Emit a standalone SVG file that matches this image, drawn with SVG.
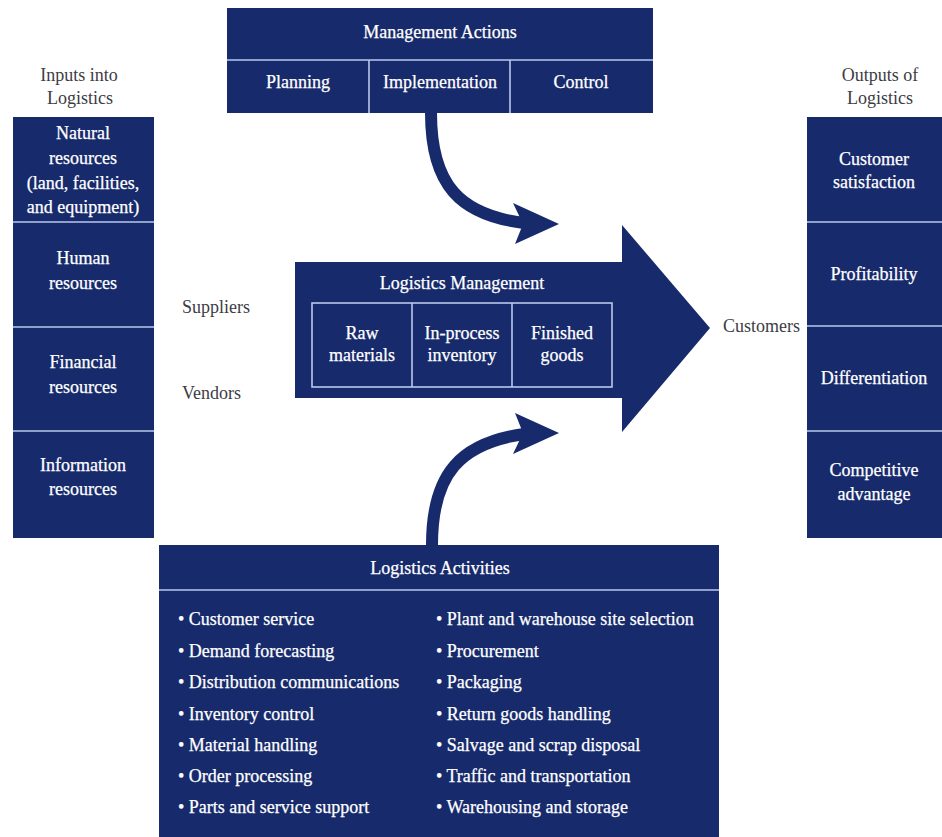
<svg xmlns="http://www.w3.org/2000/svg" width="942" height="837" viewBox="0 0 942 837">
  <style>
    .box { fill: #172a6c; }
    .rule { stroke: #b9c8ec; stroke-width: 1.6; fill: none; }
    .t { font-family: "Liberation Serif", "Times New Roman", serif; font-size: 18px; fill: #ffffff; text-anchor: middle; stroke: #ffffff; stroke-width: 0.25; }
    .tl { font-family: "Liberation Serif", "Times New Roman", serif; font-size: 18px; fill: #ffffff; stroke: #ffffff; stroke-width: 0.25; }
    .o { font-family: "Liberation Serif", "Times New Roman", serif; font-size: 18px; fill: #3c3c44; }
    .oc { text-anchor: middle; }
    .conn { fill: none; stroke: #172a6c; stroke-width: 12; }
    .head { fill: #172a6c; }
  </style>

  <rect width="942" height="837" fill="#ffffff"/>

  <!-- Management actions -->
  <g id="management-actions">
    <rect class="box" x="227" y="8" width="426" height="105"/>
    <line class="rule" x1="227" y1="60" x2="653" y2="60"/>
    <line class="rule" x1="369" y1="60" x2="369" y2="113"/>
    <line class="rule" x1="510" y1="60" x2="510" y2="113"/>
    <text class="t" x="440" y="38">Management Actions</text>
    <text class="t" x="298" y="88">Planning</text>
    <text class="t" x="440" y="88">Implementation</text>
    <text class="t" x="581" y="88">Control</text>
  </g>

  <!-- Inputs column -->
  <g id="inputs">
    <text class="o oc" x="79" y="81">Inputs into</text>
    <text class="o oc" x="80" y="104">Logistics</text>
    <rect class="box" x="13" y="117" width="141" height="421"/>
    <line class="rule" x1="13" y1="222" x2="154" y2="222"/>
    <line class="rule" x1="13" y1="327" x2="154" y2="327"/>
    <line class="rule" x1="13" y1="431" x2="154" y2="431"/>
    <text class="t" x="83" y="139">Natural</text>
    <text class="t" x="83" y="164">resources</text>
    <text class="t" x="83" y="189">(land, facilities,</text>
    <text class="t" x="83" y="213">and equipment)</text>
    <text class="t" x="83" y="264">Human</text>
    <text class="t" x="83" y="289">resources</text>
    <text class="t" x="83" y="368">Financial</text>
    <text class="t" x="83" y="393">resources</text>
    <text class="t" x="83" y="471">Information</text>
    <text class="t" x="83" y="495">resources</text>
  </g>

  <!-- Outputs column -->
  <g id="outputs">
    <text class="o oc" x="880" y="81">Outputs of</text>
    <text class="o oc" x="880" y="104">Logistics</text>
    <rect class="box" x="807" y="117" width="135" height="421"/>
    <line class="rule" x1="807" y1="222" x2="942" y2="222"/>
    <line class="rule" x1="807" y1="326" x2="942" y2="326"/>
    <line class="rule" x1="807" y1="431" x2="942" y2="431"/>
    <text class="t" x="874" y="165">Customer</text>
    <text class="t" x="874" y="188">satisfaction</text>
    <text class="t" x="874" y="280">Profitability</text>
    <text class="t" x="874" y="384">Differentiation</text>
    <text class="t" x="874" y="476">Competitive</text>
    <text class="t" x="874" y="500">advantage</text>
  </g>

  <!-- Side labels -->
  <g id="suppliers"><text class="o" x="182" y="313">Suppliers</text></g>
  <g id="vendors"><text class="o" x="182" y="399">Vendors</text></g>
  <g id="customers"><text class="o" x="723" y="332">Customers</text></g>

  <!-- Logistics management (block arrow) -->
  <g id="logistics-management">
    <polygon class="box" points="295,262 622,262 622,225 710,328 622,432 622,398 295,398"/>
    <rect class="rule" x="312" y="303" width="300" height="84"/>
    <line class="rule" x1="412" y1="303" x2="412" y2="387"/>
    <line class="rule" x1="512" y1="303" x2="512" y2="387"/>
    <text class="t" x="462" y="289">Logistics Management</text>
    <text class="t" x="362" y="339">Raw</text>
    <text class="t" x="362" y="361">materials</text>
    <text class="t" x="462" y="339">In-process</text>
    <text class="t" x="462" y="361">inventory</text>
    <text class="t" x="562" y="339">Finished</text>
    <text class="t" x="562" y="361">goods</text>
  </g>

  <!-- Logistics activities -->
  <g id="logistics-activities">
    <rect class="box" x="159" y="545" width="560" height="292"/>
    <line class="rule" x1="159" y1="590" x2="719" y2="590"/>
    <text class="t" x="440" y="574">Logistics Activities</text>
    <text class="tl" x="178" y="625">• Customer service</text>
    <text class="tl" x="178" y="657">• Demand forecasting</text>
    <text class="tl" x="178" y="688">• Distribution communications</text>
    <text class="tl" x="178" y="720">• Inventory control</text>
    <text class="tl" x="178" y="751">• Material handling</text>
    <text class="tl" x="178" y="782">• Order processing</text>
    <text class="tl" x="178" y="813">• Parts and service support</text>
    <text class="tl" x="436" y="625">• Plant and warehouse site selection</text>
    <text class="tl" x="436" y="657">• Procurement</text>
    <text class="tl" x="436" y="688">• Packaging</text>
    <text class="tl" x="436" y="720">• Return goods handling</text>
    <text class="tl" x="436" y="751">• Salvage and scrap disposal</text>
    <text class="tl" x="436" y="782">• Traffic and transportation</text>
    <text class="tl" x="436" y="813">• Warehousing and storage</text>
  </g>

  <!-- Curved connectors into the logistics management arrow -->
  <g id="connectors">
    <path class="conn" d="M431,113 C431,185 460,215 524,223"/>
    <polygon class="head" points="513,203 559,224 515,244 523,224"/>
    <path class="conn" d="M432,545 C432,473 461,443 524,434"/>
    <polygon class="head" points="513,454 559,433 515,413 523,433"/>
  </g>
</svg>
